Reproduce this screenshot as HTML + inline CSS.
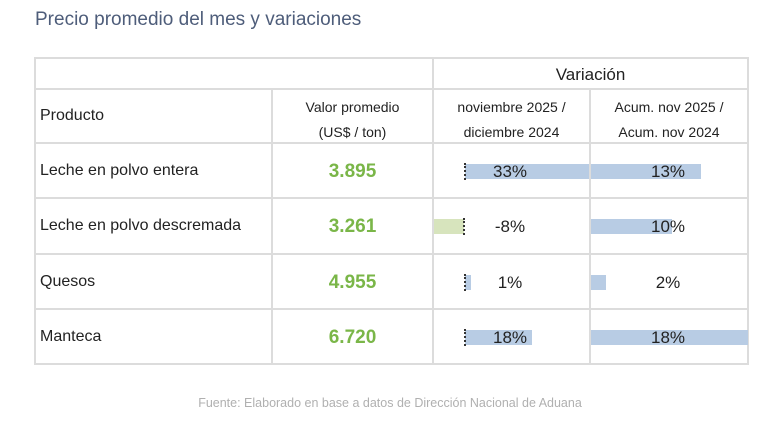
<!DOCTYPE html>
<html><head><style>
body{margin:0;width:780px;height:430px;background:#fff;font-family:"Liberation Sans",sans-serif;position:relative;overflow:hidden}
.a{position:absolute}
.h{position:absolute;height:2px;background:#dcdcdc}
.v{position:absolute;width:2px;background:#dcdcdc}
.t{position:absolute;font-size:16px;color:#222}
.c{position:absolute;text-align:center;color:#222}
.g{position:absolute;font-size:19px;font-weight:bold;color:#7ab648;text-align:center;width:161px;left:272px}
.b{position:absolute;height:15px;background:#b8cce4}
.z{position:absolute;width:0;height:17px;border-left:2px dotted #333}
.p{font-size:17px}
</style></head><body>
<div class="a" style="left:35px;top:9px;font-size:19px;color:#4e5d7a">Precio promedio del mes y variaciones</div>
<div class="h" style="left:35px;width:714px;top:57px"></div>
<div class="h" style="left:35px;width:714px;top:88px"></div>
<div class="h" style="left:35px;width:714px;top:142px"></div>
<div class="h" style="left:35px;width:714px;top:197px"></div>
<div class="h" style="left:35px;width:714px;top:253px"></div>
<div class="h" style="left:35px;width:714px;top:308px"></div>
<div class="h" style="left:35px;width:714px;top:363px"></div>
<div class="v" style="left:34px;top:57px;height:308px"></div>
<div class="v" style="left:271px;top:88px;height:277px"></div>
<div class="v" style="left:432px;top:57px;height:308px"></div>
<div class="v" style="left:589px;top:88px;height:277px"></div>
<div class="v" style="left:747px;top:57px;height:308px"></div>
<div class="c" style="left:433px;width:315px;top:65px;font-size:17px">Variación</div>
<div class="t" style="left:40px;top:107px">Producto</div>
<div class="c" style="left:272px;width:161px;top:95px;font-size:14px;line-height:25px">Valor promedio<br>(US$ / ton)</div>
<div class="c" style="left:433px;width:157px;top:95px;font-size:14px;line-height:25px">noviembre 2025 /<br>diciembre 2024</div>
<div class="c" style="left:590px;width:158px;top:95px;font-size:14px;line-height:25px">Acum. nov 2025 /<br>Acum. nov 2024</div>
<div class="t" style="left:40px;top:162px">Leche en polvo entera</div>
<div class="t" style="left:40px;top:217px">Leche en polvo descremada</div>
<div class="t" style="left:40px;top:273px">Quesos</div>
<div class="t" style="left:40px;top:328px">Manteca</div>
<div class="g" style="top:161px">3.895</div>
<div class="g" style="top:216px">3.261</div>
<div class="g" style="top:272px">4.955</div>
<div class="g" style="top:327px">6.720</div>
<div class="b" style="left:465px;width:124px;top:164px"></div>
<div class="b" style="left:434px;width:30px;top:219px;background:#d7e4bd"></div>
<div class="b" style="left:465px;width:6px;top:275px"></div>
<div class="b" style="left:465px;width:67px;top:330px"></div>
<div class="z" style="left:464px;top:163px"></div>
<div class="z" style="left:463px;top:218px"></div>
<div class="z" style="left:464px;top:274px"></div>
<div class="z" style="left:464px;top:329px"></div>
<div class="b" style="left:591px;width:110px;top:164px"></div>
<div class="b" style="left:591px;width:81px;top:219px"></div>
<div class="b" style="left:591px;width:15px;top:275px"></div>
<div class="b" style="left:591px;width:157px;top:330px"></div>
<div class="c p" style="left:470px;width:80px;top:162px">33%</div>
<div class="c p" style="left:470px;width:80px;top:217px">-8%</div>
<div class="c p" style="left:470px;width:80px;top:273px">1%</div>
<div class="c p" style="left:470px;width:80px;top:328px">18%</div>
<div class="c p" style="left:628px;width:80px;top:162px">13%</div>
<div class="c p" style="left:628px;width:80px;top:217px">10%</div>
<div class="c p" style="left:628px;width:80px;top:273px">2%</div>
<div class="c p" style="left:628px;width:80px;top:328px">18%</div>
<div class="c" style="left:0;width:780px;top:396px;font-size:12.5px;color:#b0b0b0">Fuente: Elaborado en base a datos de Dirección Nacional de Aduana</div>
</body></html>
